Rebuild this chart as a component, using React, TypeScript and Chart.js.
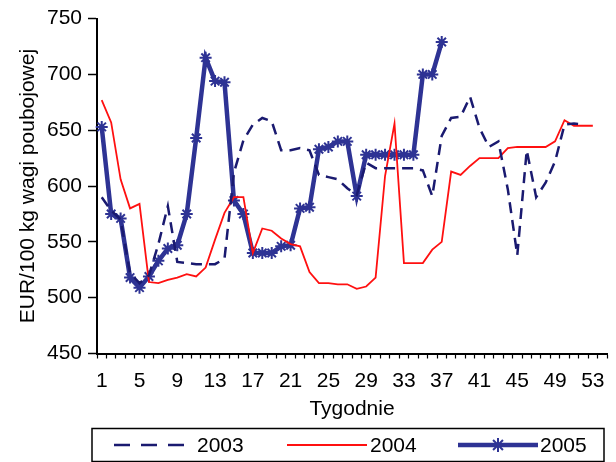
import React, { useEffect, useRef } from 'react';
import { Chart, registerables } from 'chart.js';

Chart.register(...registerables);

const weeks = ['1','2','3','4','5','6','7','8','9','10','11','12','13','14','15','16','17','18','19','20','21','22','23','24','25','26','27','28','29','30','31','32','33','34','35','36','37','38','39','40','41','42','43','44','45','46','47','48','49','50','51','52','53','54'];

const y2003 = [590,578,570,522,513,520,548,582,532,531,530,530,530,535,612,641,655,661,658,632,632,634,632,610,608,606,598,592,621,616,616,616,616,616,614,591,645,661,662,680,652,635,640,597,538,632,590,603,622,655,656,655,null,null];
const y2004 = [677,657,606,580,584,514,513,516,518,521,519,527,552,576,590,590,540,562,560,553,548,546,523,513,513,512,512,508,510,518,609,656,531,531,531,543,550,613,610,618,625,625,625,634,635,635,635,635,640,659,654,654,654,null];
const y2005 = [653,575,571,518,509,519,533,544,547,575,643,715,694,693,587,575,540,540,540,546,547,580,581,633,635,640,640,591,628,628,628,628,628,628,700,700,729,null,null,null,null,null,null,null,null,null,null,null,null,null,null,null,null,null];

const seriesNames = ['2003', '2004', '2005'];
const yTicks = { min: 450, max: 750, step: 50 };
const xTitle = 'Tygodnie';
const yTitle = 'EUR/100 kg wagi poubojowej';

const FONT = "'Liberation Sans', Arial, sans-serif";
const C2003 = '#1A1A70';
const C2004 = '#FF1010';
const C2005 = '#2E3394';

function drawStar(ctx: CanvasRenderingContext2D, x: number, y: number, r: number) {
  ctx.beginPath();
  ctx.moveTo(x - r, y); ctx.lineTo(x + r, y);
  ctx.moveTo(x, y - r); ctx.lineTo(x, y + r);
  const d = r * Math.SQRT1_2;
  ctx.moveTo(x - d, y - d); ctx.lineTo(x + d, y + d);
  ctx.moveTo(x - d, y + d); ctx.lineTo(x + d, y - d);
  ctx.stroke();
}

const boxLegend = {
  id: 'boxLegend',
  afterDraw(chart: any) {
    const ctx: CanvasRenderingContext2D = chart.ctx;
    ctx.save();
    ctx.strokeStyle = '#000';
    ctx.lineWidth = 1.5;
    ctx.strokeRect(92, 428.5, 512, 33);
    const cy = 445;
    const slots = [
      { x0: 114, x1: 185, tx: 197, dash: [16, 11] },
      { x0: 287, x1: 367, tx: 370, dash: [] },
      { x0: 458, x1: 538, tx: 540, dash: [] },
    ];
    chart.data.datasets.forEach((ds: any, i: number) => {
      const s = slots[i];
      ctx.save();
      ctx.strokeStyle = ds.borderColor;
      ctx.lineWidth = ds.borderWidth;
      ctx.setLineDash(s.dash);
      ctx.beginPath();
      ctx.moveTo(s.x0, cy);
      ctx.lineTo(s.x1, cy);
      ctx.stroke();
      ctx.setLineDash([]);
      if (ds.pointRadius > 0) {
        ctx.lineWidth = ds.pointBorderWidth;
        drawStar(ctx, (s.x0 + s.x1) / 2, cy, ds.pointRadius + 1);
      }
      ctx.restore();
      ctx.fillStyle = '#000';
      ctx.font = `21px ${FONT}`;
      ctx.textBaseline = 'middle';
      ctx.textAlign = 'left';
      ctx.fillText(ds.label, s.tx, cy + 1);
    });
    ctx.restore();
  },
};

export default function App() {
  const ref = useRef<HTMLCanvasElement | null>(null);
  useEffect(() => {
    if (!ref.current) return;
    const chart = new Chart(ref.current, {
      type: 'line',
      data: {
        labels: weeks,
        datasets: [
          {
            label: seriesNames[0],
            data: y2003,
            borderColor: C2003,
            backgroundColor: C2003,
            borderWidth: 2.5,
            borderDash: [11, 7],
            pointRadius: 0,
            tension: 0,
            order: 1,
          },
          {
            label: seriesNames[1],
            data: y2004,
            borderColor: C2004,
            backgroundColor: C2004,
            borderWidth: 1.8,
            pointRadius: 0,
            tension: 0,
            order: 2,
          },
          {
            label: seriesNames[2],
            data: y2005,
            borderColor: C2005,
            backgroundColor: C2005,
            borderWidth: 4.5,
            pointStyle: 'star',
            pointRadius: 6,
            pointBorderWidth: 2,
            pointBorderColor: C2005,
            pointBackgroundColor: C2005,
            tension: 0,
            order: 3,
          },
        ],
      },
      options: {
        animation: false,
        responsive: false,
        devicePixelRatio: 1,
        layout: { padding: { top: 13.5, right: 9, bottom: 40, left: 0 } },
        plugins: { legend: { display: false }, tooltip: { enabled: false } },
        scales: {
          x: {
            offset: true,
            afterFit: (scale: any) => { scale.height = 68.5; },
            grid: { drawOnChartArea: false, drawTicks: true, tickLength: 5, offset: true, color: '#000', tickColor: '#000', tickWidth: 1.2 },
            border: { display: true, color: '#000', width: 2 },
            ticks: {
              autoSkip: false,
              maxRotation: 0,
              minRotation: 0,
              padding: 10,
              color: '#000',
              font: { family: FONT, size: 21 },
              callback: (_v: any, i: number) => (i % 4 === 0 ? weeks[i] : ''),
            },
            title: { display: true, text: xTitle, color: '#000', font: { family: FONT, size: 21 }, padding: { top: 0, bottom: 0.5 } },
          },
          y: {
            min: yTicks.min,
            max: yTicks.max,
            afterFit: (scale: any) => { scale.width = 97; },
            grid: { drawOnChartArea: false, drawTicks: true, tickLength: 9, color: '#000', tickColor: '#000', tickWidth: 1.5 },
            border: { display: true, color: '#000', width: 2 },
            ticks: { stepSize: yTicks.step, padding: 6, color: '#000', font: { family: FONT, size: 21 } },
            title: { display: true, text: yTitle, color: '#000', font: { family: FONT, size: 21 }, padding: { top: 15.4, bottom: 0 } },
          },
        },
      },
      plugins: [boxLegend],
    });
    return () => chart.destroy();
  }, []);
  return (
    <div style={{ position: 'fixed', left: 0, top: 0, width: 616, height: 462, background: '#fff' }}>
      <canvas ref={ref} width={616} height={462} />
    </div>
  );
}
